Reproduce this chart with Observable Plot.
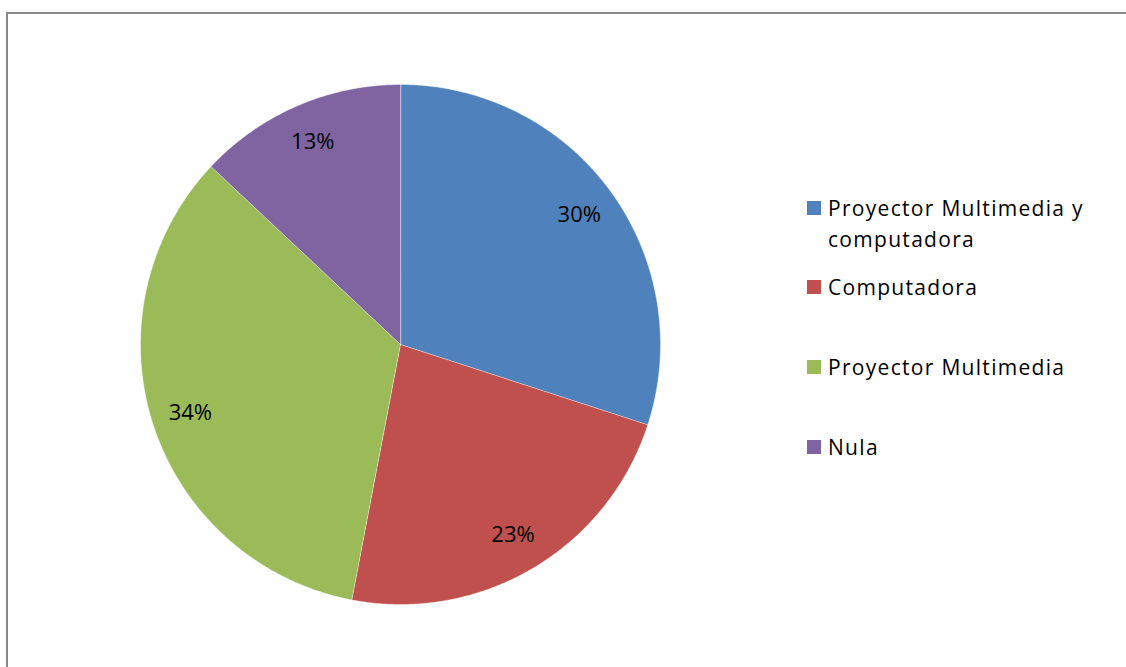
<!DOCTYPE html>
<html>
<head>
<meta charset="utf-8">
<script src="https://cdn.jsdelivr.net/npm/d3@7"></script>
<script src="https://cdn.jsdelivr.net/npm/@observablehq/plot@0.6"></script>
<style>
  html, body { margin: 0; padding: 0; background: #fff; overflow: hidden; }
  #wrap { position: relative; width: 1126px; height: 667px; font-family: "Open Sans", sans-serif; }
  #border { position: absolute; left: 6px; top: 12px; width: 1200px; height: 800px; border: 2px solid #898989; box-sizing: border-box; pointer-events: none; }
  #chart { position: absolute; left: 0; top: 0; }
  #legend { position: absolute; left: 807px; top: 0; font-size: 21px; color: #000; }
  .item { position: absolute; left: 0; white-space: nowrap; }
  .sw { position: absolute; left: 0; width: 14px; height: 14px; }
  .lab { position: absolute; left: 21px; line-height: 31px; letter-spacing: 1.3px; }
</style>
</head>
<body>
<div id="wrap">
  <div id="chart"></div>
  <div id="legend"></div>
  <div id="border"></div>
</div>
<script>
const categories = ["Proyector Multimedia y computadora", "Computadora", "Proyector Multimedia", "Nula"];
const values = [30, 23, 34, 13];
const colors = ["#4F81BD", "#C0504D", "#9BBB59", "#8064A2"];
const legendLines = [["Proyector Multimedia y", "computadora"], ["Computadora"], ["Proyector Multimedia"], ["Nula"]];

const total = d3.sum(values);
let acc = 0;
const slices = categories.map((name, i) => {
  const a0 = acc / total * 2 * Math.PI;
  acc += values[i];
  const a1 = acc / total * 2 * Math.PI;
  return {name, value: values[i], a0, a1, mid: (a0 + a1) / 2};
});

const pts = [];
for (const s of slices) {
  pts.push({name: s.name, x: 0, y: 0});
  const n = Math.max(2, Math.ceil((s.a1 - s.a0) / (Math.PI / 360)));
  for (let k = 0; k <= n; k++) {
    const a = s.a0 + (s.a1 - s.a0) * k / n;
    pts.push({name: s.name, x: Math.sin(a), y: Math.cos(a)});
  }
}

const labelR = 0.85;
const plot = Plot.plot({
  width: 1126,
  height: 667,
  marginLeft: 140,
  marginRight: 466,
  marginTop: 84,
  marginBottom: 63,
  x: {domain: [-1, 1], axis: null},
  y: {domain: [-1, 1], axis: null},
  color: {domain: categories, range: colors},
  style: {fontFamily: "'Open Sans', sans-serif", background: "transparent"},
  marks: [
    Plot.line(pts, {x: "x", y: "y", z: "name", fill: "name", stroke: "#ffffff", strokeOpacity: 0.5, strokeWidth: 0.8, curve: "linear-closed"}),
    Plot.text(slices, {
      x: d => labelR * Math.sin(d.mid),
      y: d => labelR * Math.cos(d.mid),
      text: d => Math.round(d.value / total * 100) + "%",
      fontSize: 22,
      fill: "#000"
    })
  ]
});
document.getElementById("chart").appendChild(plot);

const legendTops = [193, 272, 352, 432];
const lg = document.getElementById("legend");
categories.forEach((c, i) => {
  const it = document.createElement("div");
  it.className = "item";
  it.style.top = legendTops[i] + "px";
  const sw = document.createElement("div");
  sw.className = "sw";
  sw.style.background = colors[i];
  sw.style.top = "8px";
  it.appendChild(sw);
  const lab = document.createElement("div");
  lab.className = "lab";
  lab.innerHTML = legendLines[i].join("<br>");
  it.appendChild(lab);
  lg.appendChild(it);
});
</script>
</body>
</html>
